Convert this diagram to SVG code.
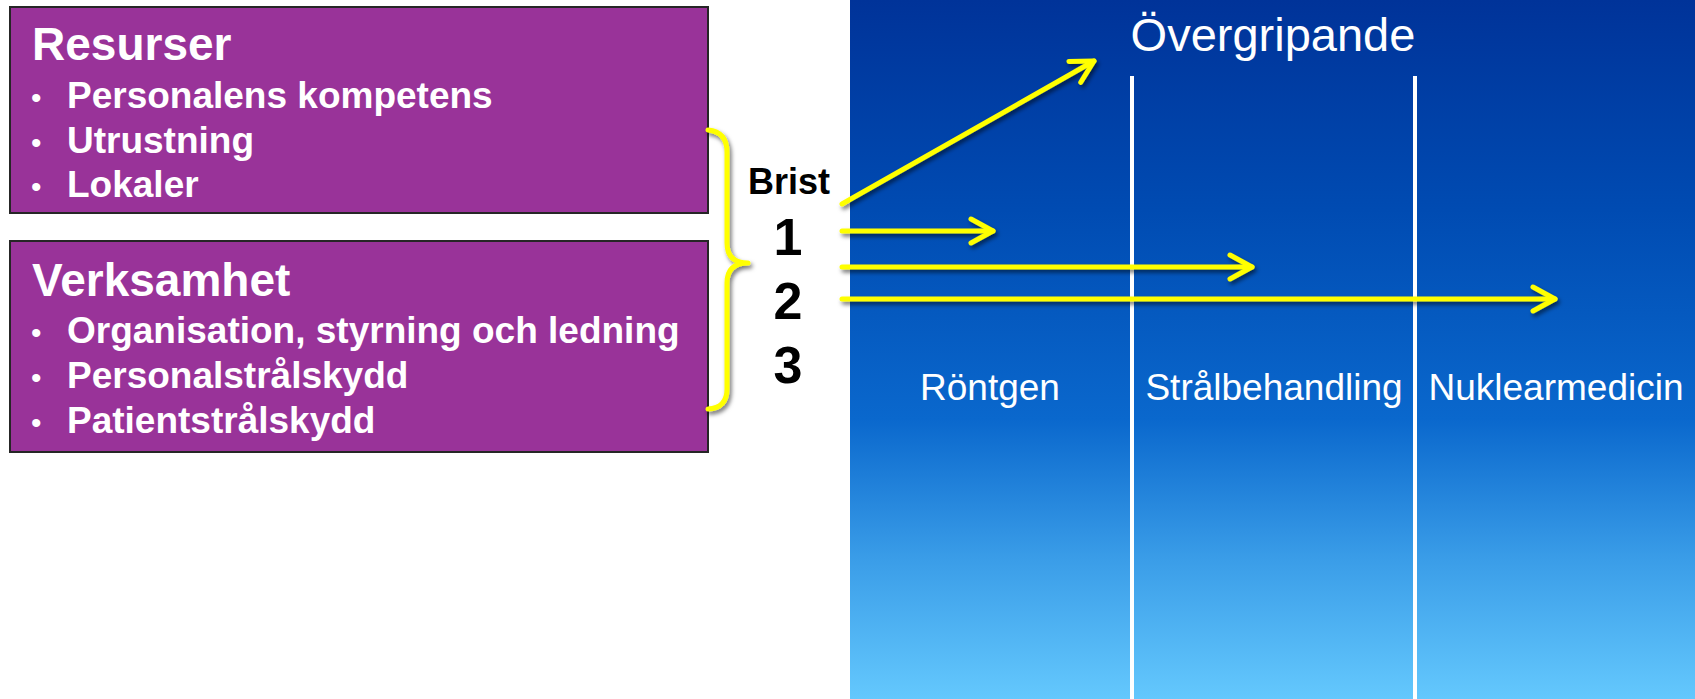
<svg xmlns="http://www.w3.org/2000/svg" width="1695" height="699" viewBox="0 0 1695 699">
<style>
.box{fill:#993399;stroke:#262626;stroke-width:2}
.title{font-family:"Liberation Sans",Arial,sans-serif;font-weight:bold;font-size:46px;fill:#fff}
.item{font-family:"Liberation Sans",Arial,sans-serif;font-weight:bold;font-size:37px;fill:#fff}
.bul{font-family:"Liberation Sans",Arial,sans-serif;font-size:30px;fill:#fff}
.col{font-family:"Liberation Sans",Arial,sans-serif;font-size:37px;fill:#fff;text-anchor:middle}
.num{font-family:"Liberation Sans",Arial,sans-serif;font-weight:bold;fill:#000;text-anchor:middle}
.yl{fill:none;stroke:#FFFF00;stroke-width:5;stroke-linecap:round;stroke-linejoin:round}
.div{stroke:#fff;stroke-width:4}
</style>
<defs>
<linearGradient id="bg" x1="0" y1="0" x2="0" y2="1">
<stop offset="0" stop-color="#003399"/>
<stop offset="0.3" stop-color="#004BB2"/>
<stop offset="0.6" stop-color="#0A68CD"/>
<stop offset="0.8" stop-color="#3A9DE8"/>
<stop offset="1" stop-color="#64C8FD"/>
</linearGradient>
<filter id="sh" x="-10%" y="-20%" width="130%" height="160%">
<feDropShadow dx="2" dy="3" stdDeviation="2" flood-color="#000" flood-opacity="0.55"/>
</filter>
<marker id="ah" markerUnits="userSpaceOnUse" markerWidth="40" markerHeight="40" refX="30" refY="20" orient="auto" viewBox="0 0 40 40">
<path d="M8,8 L30,20 L8,32" fill="none" stroke="#FFFF00" stroke-width="5" stroke-linecap="round" stroke-linejoin="round"/>
</marker>
</defs>

<g id="panel">
<rect x="850" y="0" width="845" height="699" fill="url(#bg)"/>
<line class="div" x1="1132" y1="76" x2="1132" y2="699"/>
<line class="div" x1="1415" y1="76" x2="1415" y2="699"/>
</g>

<g id="overgripande"><text class="col" x="1273" y="51" style="font-size:47px">Övergripande</text></g>
<g id="rontgen"><text class="col" x="990" y="400">Röntgen</text></g>
<g id="stralbehandling"><text class="col" x="1274" y="400">Strålbehandling</text></g>
<g id="nuklearmedicin"><text class="col" x="1556" y="400">Nuklearmedicin</text></g>

<g id="resurser">
<rect class="box" x="10" y="7" width="698" height="206"/>
<text class="title" x="32" y="60">Resurser</text>
<text class="bul" x="31" y="108">•</text><text class="item" x="67" y="108">Personalens kompetens</text>
<text class="bul" x="31" y="153">•</text><text class="item" x="67" y="153">Utrustning</text>
<text class="bul" x="31" y="197">•</text><text class="item" x="67" y="197">Lokaler</text>
</g>

<g id="verksamhet">
<rect class="box" x="10" y="241" width="698" height="211"/>
<text class="title" x="32" y="296">Verksamhet</text>
<text class="bul" x="31" y="343">•</text><text class="item" x="67" y="343">Organisation, styrning och ledning</text>
<text class="bul" x="31" y="388">•</text><text class="item" x="67" y="388">Personalstrålskydd</text>
<text class="bul" x="31" y="433">•</text><text class="item" x="67" y="433">Patientstrålskydd</text>
</g>

<g id="brist">
<text class="num" x="789" y="194" style="font-size:36px">Brist</text>
<text class="num" x="788" y="255" style="font-size:52px">1</text>
<text class="num" x="788" y="319" style="font-size:52px">2</text>
<text class="num" x="788" y="383" style="font-size:52px">3</text>
</g>

<g id="connectors" filter="url(#sh)">
<path class="yl" d="M708,130 Q727,132 727,152 L727,243 Q727,263 748,263 Q727,263 727,283 L727,389 Q727,408 708,409"/>
<line class="yl" x1="842" y1="204" x2="1094" y2="61" marker-end="url(#ah)"/>
<line class="yl" x1="842" y1="231" x2="993" y2="231" marker-end="url(#ah)"/>
<line class="yl" x1="842" y1="267" x2="1252" y2="267" marker-end="url(#ah)"/>
<line class="yl" x1="842" y1="299" x2="1555" y2="299" marker-end="url(#ah)"/>
</g>
</svg>
